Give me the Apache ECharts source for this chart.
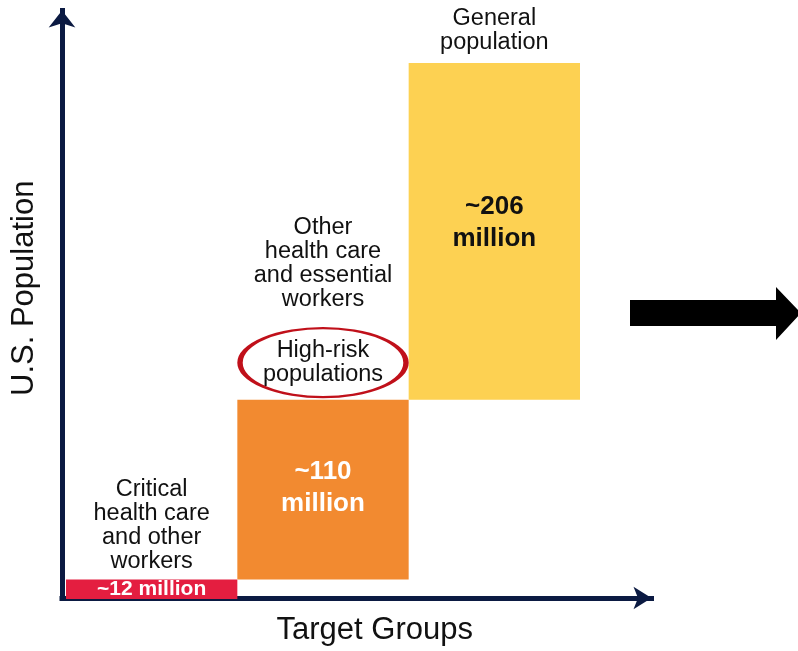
<!DOCTYPE html>
<html>
<head>
<meta charset="utf-8">
<title>U.S. Population by Target Group</title>
<script src="https://cdn.jsdelivr.net/npm/echarts@6/dist/echarts.min.js"></script>
<style>
  html, body { margin: 0; padding: 0; background: #ffffff; }
  #chart { width: 798px; height: 651px; }
</style>
</head>
<body>
<div id="chart"></div>
<script>
// Target groups, left to right
const categories = ['Critical workers', 'Other workers and high-risk', 'General population'];
// Caption written above each step
const groupCaptions = ['Critical\nhealth care\nand other\nworkers', 'Other\nhealth care\nand essential\nworkers', 'General\npopulation'];
// Population of each group, millions
const populationMillions = [12, 110, 206];
// Text printed on each step
const valueLabels = ['~12 million', '~110\nmillion', '~206\nmillion'];
// Circled note for the middle group
const highlightNote = 'High-risk\npopulations';

const barColors = ['#e41e40', '#f28a30', '#fdd152'];
const valueTextColors = ['#ffffff', '#ffffff', '#111111'];
const valueFontSizes = [21, 26, 26];
const valueLabelShift = [0, -2, -8];
const captionGaps = [5, 88, 8];
const axisColor = '#0b1a42';
const font = "'Liberation Sans', Arial, sans-serif";

// Each step starts where the previous ones end
const offsets = populationMillions.map((_, i) =>
  populationMillions.slice(0, i).reduce((a, b) => a + b, 0));
const tops = offsets.map((o, i) => o + populationMillions[i]);
const total = tops[tops.length - 1];

const chart = echarts.init(document.getElementById('chart'), null, { renderer: 'canvas' });

const option = {
  backgroundColor: '#ffffff',
  animation: false,
  textStyle: { fontFamily: font },
  grid: [
    // plotting area for the steps
    { left: 66, right: 218, top: 63, bottom: 52 },
    // area carrying the arrow axes
    { left: 62, right: 146.5, top: 10.5, bottom: 52 }
  ],
  xAxis: [
    { gridIndex: 0, type: 'category', data: categories, show: false },
    {
      gridIndex: 1, type: 'value', min: 0, max: 1,
      axisLine: { show: true, onZero: false, symbol: ['none', 'arrow'], symbolSize: [17, 18],
        lineStyle: { color: axisColor, width: 5, cap: 'square' } },
      axisTick: { show: false }, axisLabel: { show: false }, splitLine: { show: false },
      name: 'Target Groups', nameLocation: 'middle', nameGap: 17,
      nameTextStyle: { fontFamily: font, fontSize: 31, color: '#111111', padding: [0, 0, 0, 36] }
    }
  ],
  yAxis: [
    { gridIndex: 0, type: 'value', min: 0, max: total, show: false },
    {
      gridIndex: 1, type: 'value', min: 0, max: 1,
      axisLine: { show: true, onZero: false, symbol: ['none', 'arrow'], symbolSize: [20, 17],
        lineStyle: { color: axisColor, width: 5, cap: 'square' } },
      axisTick: { show: false }, axisLabel: { show: false }, splitLine: { show: false },
      name: 'U.S. Population', nameLocation: 'middle', nameGap: 22,
      nameTextStyle: { fontFamily: font, fontSize: 31, color: '#111111', padding: [0, 0, 0, 32] }
    }
  ],
  series: [
    {
      name: 'offset', type: 'bar', stack: 'steps', xAxisIndex: 0, yAxisIndex: 0,
      barCategoryGap: 0, silent: true,
      itemStyle: { color: 'rgba(0,0,0,0)' },
      data: offsets
    },
    {
      name: 'population', type: 'bar', stack: 'steps', xAxisIndex: 0, yAxisIndex: 0,
      barCategoryGap: 0,
      data: populationMillions.map((v, i) => ({
        value: v,
        itemStyle: { color: barColors[i] },
        label: {
          show: true, position: 'inside', offset: [0, valueLabelShift[i]],
          formatter: valueLabels[i],
          color: valueTextColors[i], fontFamily: font, fontWeight: 'bold',
          fontSize: valueFontSizes[i], lineHeight: 32
        }
      }))
    },
    {
      name: 'captions', type: 'scatter', xAxisIndex: 0, yAxisIndex: 0,
      symbolSize: 1, itemStyle: { color: 'rgba(0,0,0,0)', opacity: 1 }, silent: true, z: 5,
      data: tops.map((t, i) => ({
        value: [i, t],
        label: {
          show: true, position: 'top', distance: captionGaps[i],
          formatter: groupCaptions[i],
          color: '#111111', fontFamily: font, fontSize: 23.5, lineHeight: 24, align: 'center'
        }
      }))
    },
    {
      name: 'highlight', type: 'scatter', xAxisIndex: 0, yAxisIndex: 0, z: 6, silent: true,
      symbol: 'path://M0,50 A50,50 0 1,1 100,50 A50,50 0 1,1 0,50 Z',
      symbolSize: [166, 69], symbolOffset: [0, -37],
      itemStyle: { color: '#ffffff', borderColor: '#c0101a', borderWidth: 3.5, opacity: 1 },
      label: {
        show: true, position: 'inside', formatter: highlightNote,
        color: '#111111', fontFamily: font, fontSize: 23.5, lineHeight: 24
      },
      data: [[1, tops[1]]]
    }
  ],
  graphic: [
    {
      // block arrow pointing onward to the right
      type: 'polygon', z: 10,
      shape: { points: [[630, 300], [776, 300], [776, 287], [801, 313], [776, 340], [776, 326], [630, 326]] },
      style: { fill: '#000000' }
    }
  ]
};

chart.setOption(option);
</script>
</body>
</html>
